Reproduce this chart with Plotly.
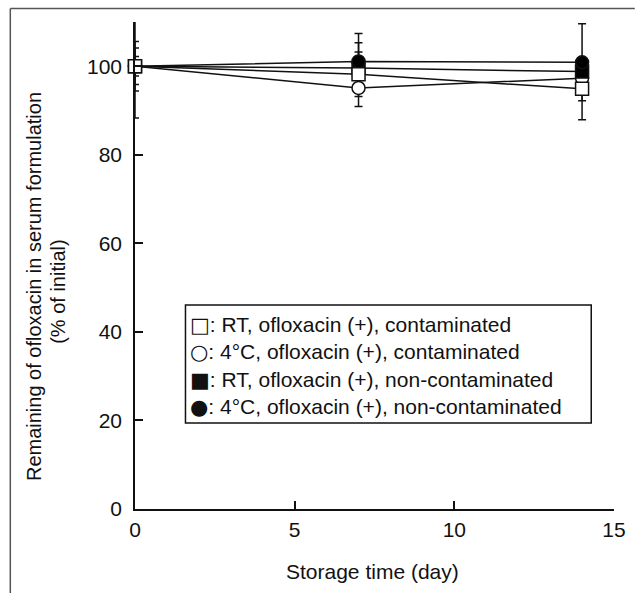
import plotly.graph_objects as go

days = [0, 7, 14]

series_names = [
    "4°C, ofloxacin (+), contaminated",
    "RT, ofloxacin (+), non-contaminated",
    "4°C, ofloxacin (+), non-contaminated",
    "RT, ofloxacin (+), contaminated",
]
series_values = [
    [100, 95.1, 97.3],    # open circle
    [100, 99.6, 98.8],    # filled square
    [100, 101.1, 100.9],  # filled circle
    [100, 98.2, 94.9],    # open square
]
series_errors = [
    [11.7, 4.2, 3.5],
    [2.2, 5.7, 3.0],
    [4.1, 6.3, 8.7],
    [5.6, 5.0, 7.0],
]
series_symbols = ["circle", "square", "circle", "square"]
series_fill = ["white", "black", "black", "white"]

legend_glyphs = ["□", "○", "■", "●"]
legend_texts = [
    ": RT, ofloxacin (+), contaminated",
    ": 4°C, ofloxacin (+), contaminated",
    ": RT, ofloxacin (+), non-contaminated",
    ": 4°C, ofloxacin (+), non-contaminated",
]

x_ticks = [0, 5, 10, 15]
y_ticks = [0, 20, 40, 60, 80, 100]

W, H = 638, 593
ML, MR, MT, MB = 135, 19, 22, 84
PW, PH = W - ML - MR, H - MT - MB


def px(xp):
    return (xp - ML) / PW


def py(yp):
    return (H - MB - yp) / PH


FONT = "Liberation Sans, Arial, sans-serif"
GLYPH_FONT = "DejaVu Sans"
INK = "#111111"

fig = go.Figure()

# error bars (clipped to the plotting area)
for vals, errs in zip(series_values, series_errors):
    fig.add_trace(go.Scatter(
        x=days, y=vals, mode="markers",
        marker=dict(size=1, opacity=0),
        error_y=dict(type="data", array=errs, visible=True,
                     color=INK, thickness=1.5, width=4),
        cliponaxis=True, showlegend=False, hoverinfo="skip",
    ))

# series
for name, vals, sym, fill in zip(series_names, series_values, series_symbols, series_fill):
    fig.add_trace(go.Scatter(
        x=days, y=vals, mode="lines+markers", name=name,
        line=dict(color=INK, width=1.5),
        marker=dict(symbol=sym, size=13, color=fill,
                    line=dict(color=INK, width=1.5)),
        cliponaxis=False, showlegend=False,
    ))

axis_common = dict(
    showline=True, linecolor=INK, linewidth=1.5,
    ticks="inside", ticklen=8, tickwidth=1.5, tickcolor=INK,
    showgrid=False, zeroline=False,
    tickfont=dict(family=FONT, size=21, color=INK),
)

fig.update_xaxes(range=[0, 15], tickvals=x_ticks, ticklabelstandoff=1, **axis_common)
fig.update_yaxes(range=[0, 110], tickvals=y_ticks, ticklabelstandoff=7, **axis_common)

shapes = [
    # outer frame (top and left)
    dict(type="line", xref="paper", yref="paper", x0=px(9), x1=px(W + 2),
         y0=py(8.5), y1=py(8.5), line=dict(color="#555555", width=1.5)),
    dict(type="line", xref="paper", yref="paper", x0=px(9), x1=px(9),
         y0=py(8.5), y1=py(H + 2), line=dict(color="#555555", width=1.5)),
    # legend box
    dict(type="rect", xref="paper", yref="paper", x0=px(186), x1=px(596),
         y0=py(423), y1=py(305), line=dict(color=INK, width=1.5),
         fillcolor="white", layer="above"),
]

legend_html = "<br>".join(
    f'<span style="font-family:{GLYPH_FONT}">{g}</span>{t}'
    for g, t in zip(legend_glyphs, legend_texts)
)

annotations = [
    dict(xref="paper", yref="paper", x=px(189), y=py(366),
         xanchor="left", yanchor="middle", align="left", showarrow=False,
         text=legend_html,
         font=dict(family=FONT, size=21, color=INK)),
    dict(xref="paper", yref="paper", x=px(375), y=py(571),
         xanchor="center", yanchor="middle", showarrow=False,
         text="Storage time (day)",
         font=dict(family=FONT, size=21, color=INK)),
    dict(xref="paper", yref="paper", x=px(33), y=py(287),
         xanchor="center", yanchor="middle", showarrow=False, textangle=-90,
         text="Remaining of ofloxacin in serum formulation",
         font=dict(family=FONT, size=20, color=INK)),
    dict(xref="paper", yref="paper", x=px(57), y=py(292),
         xanchor="center", yanchor="middle", showarrow=False, textangle=-90,
         text="(% of initial)",
         font=dict(family=FONT, size=20, color=INK)),
]

fig.update_layout(
    width=W, height=H,
    margin=dict(l=ML, r=MR, t=MT, b=MB, pad=0),
    paper_bgcolor="white", plot_bgcolor="white",
    shapes=shapes, annotations=annotations,
    showlegend=False,
)

fig.write_html("out.html", config={"displayModeBar": False},
               post_script="document.body.style.margin='0';")
